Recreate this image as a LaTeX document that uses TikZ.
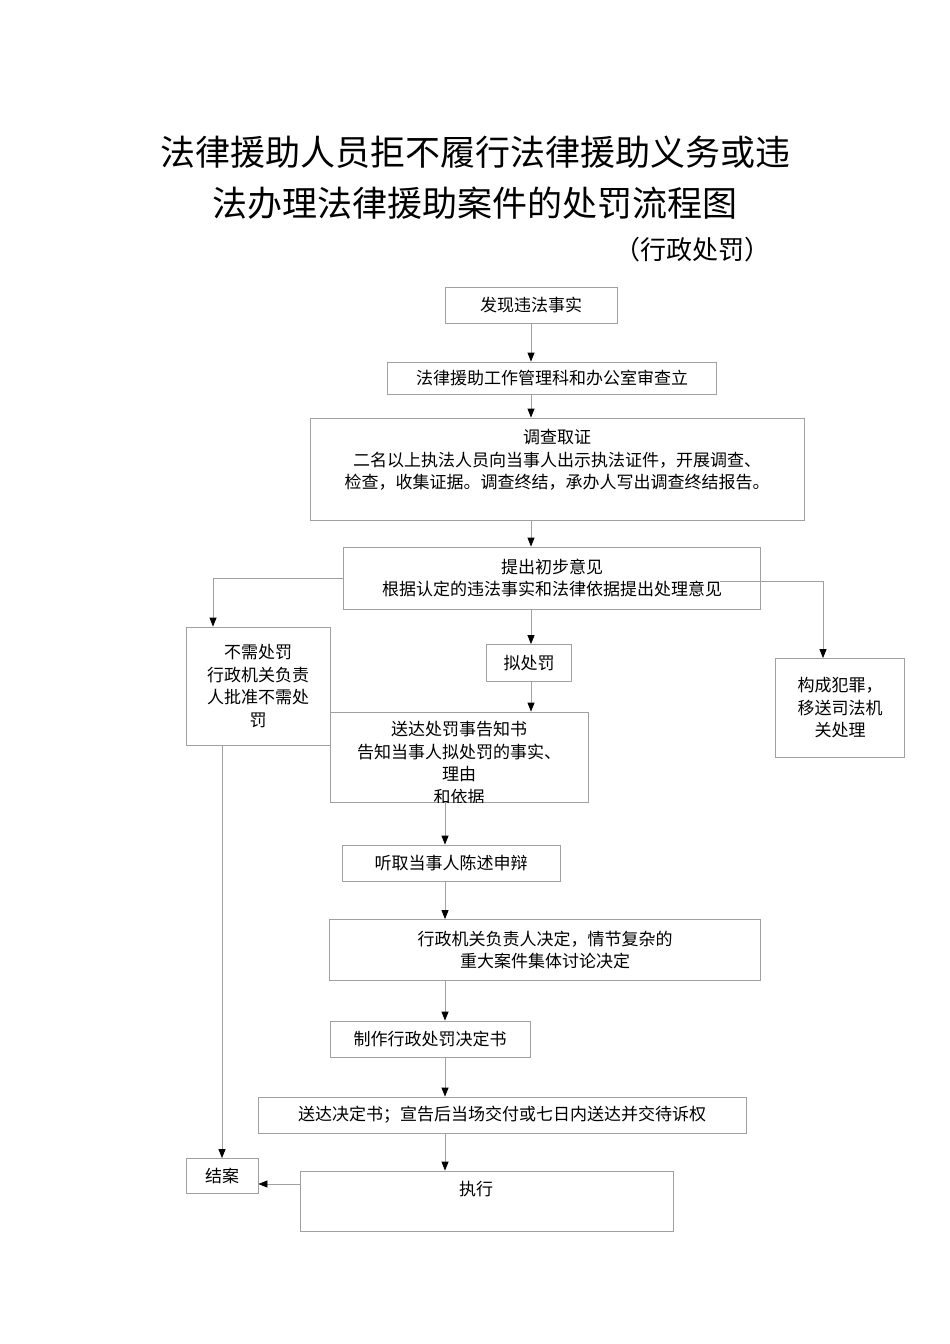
\documentclass[tikz,border=0pt]{standalone}
\usepackage{fontspec}
\setmainfont{Noto Sans CJK SC}
\usetikzlibrary{arrows.meta, positioning}
\definecolor{LineGray}{HTML}{A0A0A0}
\definecolor{TextDark}{HTML}{000000}
\newcommand{\bodyfont}{\fontsize{17}{22.5}\selectfont}
\begin{document}
\begin{tikzpicture}[x=1pt, y=-1pt,
    box/.style={draw=LineGray, line width=0.8pt, inner sep=0pt, align=center,
      font=\bodyfont, text=TextDark},
    txt/.style={inner sep=0pt, align=center, font=\bodyfont, text=TextDark},
    arr/.style={-{Triangle[length=9pt,width=7pt,color=black]}, draw=LineGray, line width=0.8pt},
    ln/.style={draw=LineGray, line width=0.8pt}
  ]
    \useasboundingbox (0,0) rectangle (950,1344);

    % Title
    \node[txt, font=\fontsize{35}{40}\selectfont] (t1) at (475,152) {法律援助人员拒不履行法律援助义务或违};
    \node[txt, font=\fontsize{35}{40}\selectfont] (t2) at (475,203) {法办理法律援助案件的处罚流程图};
    \node[txt, font=\fontsize{26}{30}\selectfont] (t3) at (692,250) {（行政处罚）};

    % Boxes
    \node[box, minimum width=172, minimum height=36] (find) at (531,305) {发现违法事实};
    \node[box, minimum width=329, minimum height=32] (check) at (552,378) {法律援助工作管理科和办公室审查立};
    \node[box, minimum width=494, minimum height=102] (inv) at (557,469) {};
    \node[txt] (invt) at (557,460) {调查取证\\二名以上执法人员向当事人出示执法证件，开展调查、\\检查，收集证据。调查终结，承办人写出调查终结报告。};
    \node[box, minimum width=417, minimum height=62] (opin) at (552,578)
      {提出初步意见\\根据认定的违法事实和法律依据提出处理意见};
    \node[box, minimum width=144, minimum height=118] (nopun) at (258,686)
      {不需处罚\\行政机关负责\\人批准不需处\\罚};
    \node[box, minimum width=85, minimum height=37] (plan) at (529,663) {拟处罚};
    \node[box, minimum width=129, minimum height=99] (crime) at (840,708)
      {构成犯罪，\\移送司法机\\关处理};
    \node[box, fill=white, minimum width=258, minimum height=90] (notice) at (459,757) {};
    \begin{scope}
      \clip (notice.south west) rectangle (notice.north east);
      \node[txt] (noticet) at (459,763)
        {送达处罚事告知书\\告知当事人拟处罚的事实、\\理由\\和依据};
    \end{scope}
    \node[box, minimum width=218, minimum height=36] (hear) at (451,863) {听取当事人陈述申辩};
    \node[box, minimum width=431, minimum height=61] (dec) at (545,950)
      {行政机关负责人决定，情节复杂的\\重大案件集体讨论决定};
    \node[box, minimum width=200, minimum height=36] (make) at (430,1039) {制作行政处罚决定书};
    \node[box, minimum width=488, minimum height=36] (send) at (502,1115) {送达决定书；宣告后当场交付或七日内送达并交待诉权};
    \node[box, minimum width=72, minimum height=35] (close) at (222,1176) {结案};
    \node[box, minimum width=373, minimum height=60] (exec) at (487,1201) {};
    \node[txt] (exect) at (476,1189) {执行};

    % Arrows
    \draw[arr] (find.south) -- (check.north -| find.south);
    \draw[arr] (check.south -| find.south) -- (inv.north -| find.south);
    \draw[arr] (inv.south -| find.south) -- (opin.north -| find.south);
    \draw[arr] (opin.west |- 0,578) -| (nopun.north -| 213,0);
    \draw[arr] (720,581) -| (crime.north -| 823,0);
    \draw[arr] (opin.south -| find.south) -- (plan.north -| find.south);
    \draw[arr] (plan.south -| find.south) -- (notice.north -| find.south);
    \draw[arr] (notice.south -| 445,0) -- (hear.north -| 445,0);
    \draw[arr] (hear.south -| 445,0) -- (dec.north -| 445,0);
    \draw[arr] (dec.south -| 445,0) -- (make.north -| 445,0);
    \draw[arr] (make.south -| 445,0) -- (send.north -| 445,0);
    \draw[arr] (send.south -| 445,0) -- (exec.north -| 445,0);
    \draw[arr] (nopun.south -| close.north) -- (close.north);
    \draw[arr] (exec.west |- 0,1184) -- (close.east |- 0,1184);
  \end{tikzpicture}
\end{document}
